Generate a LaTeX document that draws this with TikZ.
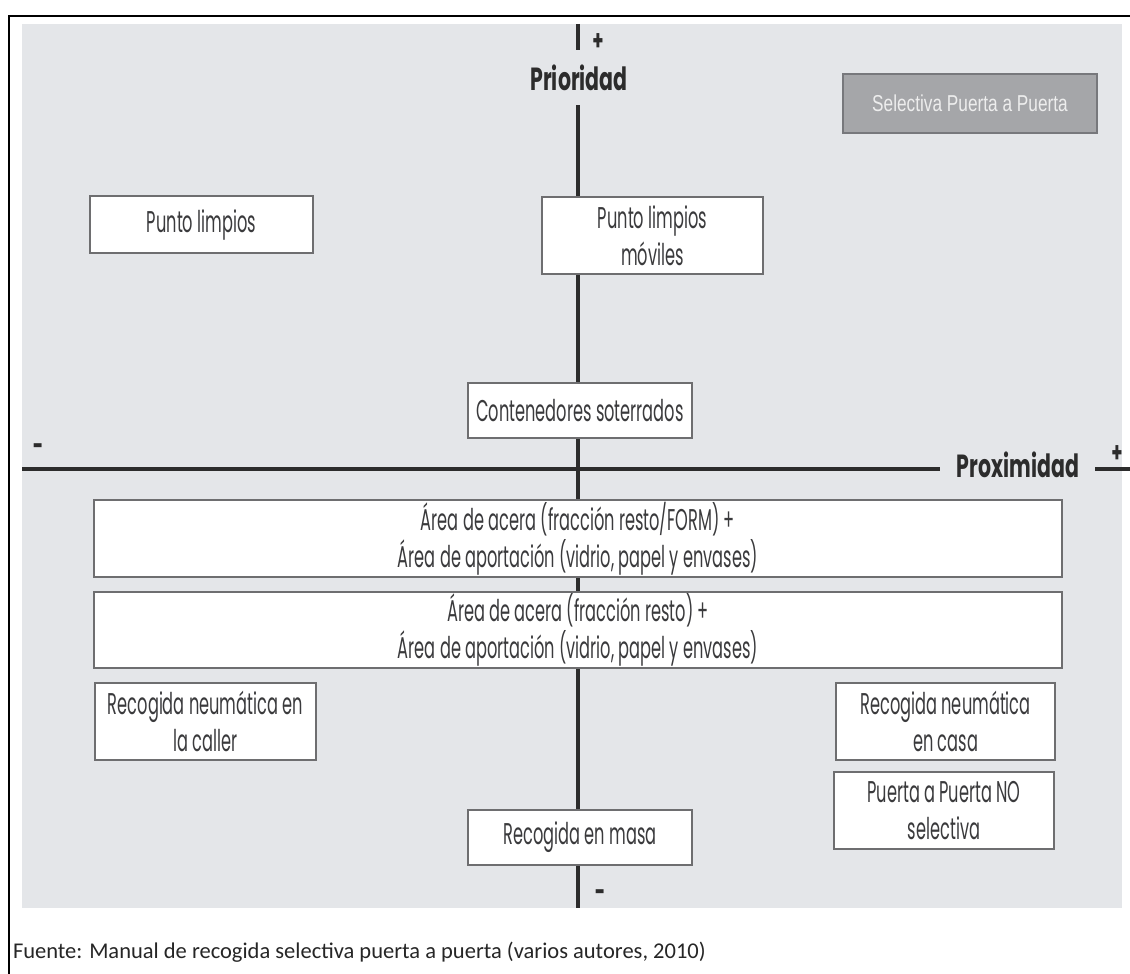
\documentclass[tikz,border=0pt]{standalone}
\usepackage{fontspec}
\newfontfamily\condfont[FakeStretch=0.54]{Poppins}
\newfontfamily\axisfont[FakeStretch=0.64]{Poppins}
\newfontfamily\narrowfont[FakeStretch=0.75]{Liberation Sans}
\newfontfamily\notefont{Carlito}
\definecolor{panel}{HTML}{E4E6E9}
\definecolor{boxline}{HTML}{6E6E70}
\definecolor{txt}{HTML}{3A3A3C}
\definecolor{axis}{HTML}{2C2C2C}
\definecolor{selfill}{HTML}{A5A6A9}
\definecolor{seledge}{HTML}{77787C}
\definecolor{seltxt}{HTML}{EDEDED}
\begin{document}
\begin{tikzpicture}[x=1pt,y=-1pt,
  every node/.style={inner sep=0pt, outer sep=0pt},
  optbox/.style={draw=boxline, line width=2pt, fill=white, align=center,
    text=txt, font=\condfont\fontsize{30}{37}\selectfont},
  selbox/.style={draw=seledge, line width=2.4pt, fill=selfill, align=center,
    text=seltxt, font=\narrowfont\fontsize{23}{27}\selectfont},
  axisline/.style={draw=axis, line width=3.4pt},
  axislabel/.style={text=axis, font=\axisfont\bfseries\fontsize{32}{34}\selectfont},
  sign/.style={text=axis, font=\axisfont\bfseries\fontsize{28}{30}\selectfont}]
\useasboundingbox (0,0) rectangle (1130,974);
\fill[white] (0,0) rectangle (1130,974);
% outer frame and grey panel
\draw[line width=2.2pt] (9,974) -- (9,16) -- (1130,16);
\fill[panel] (22,24) rectangle (1122,908);

% axes
\coordinate (vtop) at (578,24);
\coordinate (vgap) at (578,50);
\node[axislabel] (prio) at (579,78) {Prioridad};
\coordinate (vres) at (578,105);
\coordinate (vbot) at (578,908);
\draw[axisline] (vtop) -- (vgap);
\draw[axisline] (vres) -- (vbot);

\coordinate (hleft) at (22,469);
\coordinate (hgap) at (940,469);
\node[axislabel] (prox) at (1018,465) {Proximidad};
\coordinate (hres) at (1095,469);
\coordinate (hright) at (1130,469);
\draw[axisline] (hleft) -- (hgap);
\draw[axisline] (hres) -- (hright);

\node[sign] (vplus) at (598,42) {+};
\node[sign] (vminus) at (600,896) {-};
\node[sign] (hminus) at (38,450) {-};
\node[sign] (hplus) at (1117,454) {+};

% options
\node[selbox, minimum width=254pt, minimum height=59pt] (sel) at (970,103.5) {Selectiva Puerta a Puerta};
\node[optbox, minimum width=223pt, minimum height=57pt] (plimp) at (201.5,224.5) {Punto limpios};
\node[optbox, minimum width=221pt, minimum height=77pt] (pmov) at (652.5,235.5) {Punto limpios\\móviles};
\node[optbox, minimum width=224pt, minimum height=55pt] (cont) at (580,410.5) {Contenedores soterrados};
\node[optbox, minimum width=968pt, minimum height=77pt] (area1) at (578,538.5) {Área de acera (fracción resto/FORM) +\\Área de aportación (vidrio, papel y envases)};
\node[optbox, minimum width=968pt, minimum height=76pt] (area2) at (578,630) {Área de acera (fracción resto) +\\Área de aportación (vidrio, papel y envases)};
\node[optbox, minimum width=221pt, minimum height=77pt] (caller) at (205.5,721.5) {Recogida neumática en\\la caller};
\node[optbox, minimum width=219pt, minimum height=77pt] (casa) at (945.5,721.5) {Recogida neumática\\en casa};
\node[optbox, minimum width=220pt, minimum height=77pt] (nosel) at (944,810.5) {Puerta a Puerta NO\\selectiva};
\node[optbox, minimum width=224pt, minimum height=55pt] (masa) at (580,837.5) {Recogida en masa};

% source note
\node[anchor=west, text=black!85, font=\notefont\fontsize{22.5}{26}\selectfont] (src) at (13,952)
  {Fuente: Manual de recogida selectiva puerta a puerta (varios autores, 2010)};
\end{tikzpicture}
\end{document}
